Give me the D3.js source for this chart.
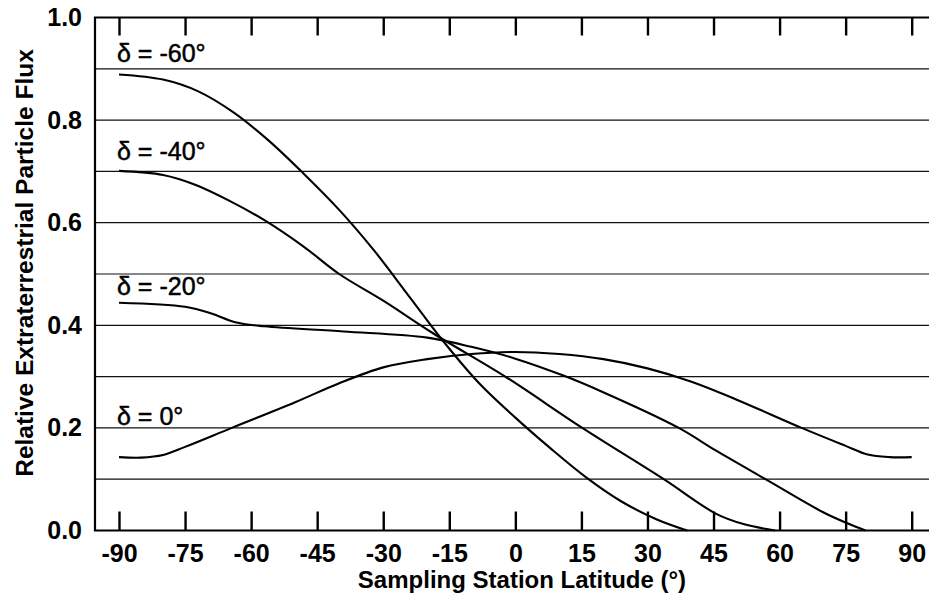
<!DOCTYPE html>
<html>
<head>
<meta charset="utf-8">
<script src="https://cdn.jsdelivr.net/npm/d3@7"></script>
<style>
  body { margin: 0; background: #fff; }
  text { font-family: "Liberation Sans", Arial, Helvetica, sans-serif; fill: #000; }
</style>
</head>
<body>
<script>
// 0.1 data (latitude in degrees, relative flux)
var latTicks = [-90, -75, -60, -45, -30, -15, 0, 15, 30, 45, 60, 75, 90];
var fluxTicks = [0.0, 0.2, 0.4, 0.6, 0.8, 1.0];
var gridVals = [0.1, 0.2, 0.3, 0.4, 0.5, 0.6, 0.7, 0.8, 0.9];

var decl60Lat = [-90, -80, -72, -64, -56, -48, -40, -32, -24, -16, -8, 0, 8, 16, 24, 32, 39];
var decl60Flux = [0.889, 0.879, 0.856, 0.815, 0.76, 0.695, 0.625, 0.545, 0.455, 0.365, 0.285, 0.22, 0.16, 0.104, 0.057, 0.022, 0];

var decl40Lat = [-90, -80, -72.7, -65, -56.8, -48, -40, -30, -18.6, -2.3, 15.2, 33.7, 45.5, 52, 59];
var decl40Flux = [0.701, 0.693, 0.674, 0.643, 0.604, 0.553, 0.5, 0.448, 0.384, 0.3, 0.2, 0.1, 0.033, 0.012, 0];

var decl20Lat = [-90, -75, -69, -63.6, -57, -39, -20, -10, 0, 10.9, 19.3, 37.1, 45.5, 56.8, 70, 75.4, 79.5];
var decl20Flux = [0.444, 0.436, 0.423, 0.406, 0.398, 0.388, 0.376, 0.358, 0.335, 0.302, 0.272, 0.2, 0.156, 0.1, 0.035, 0.014, 0];

var decl0Lat = [-90, -85, -80, -75, -64.4, -50, -40, -30, -20, -10, 0, 10, 20, 30, 40, 50, 65, 75, 80, 85, 90];
var decl0Flux = [0.143, 0.142, 0.147, 0.163, 0.2, 0.25, 0.287, 0.318, 0.334, 0.344, 0.348, 0.344, 0.334, 0.316, 0.29, 0.256, 0.2, 0.165, 0.148, 0.143, 0.143];

var seriesNames = ['δ = -60°', 'δ = -40°', 'δ = -20°', 'δ = 0°'];
var labelFlux = [0.913, 0.722, 0.459, 0.206];

var xTitle = 'Sampling Station Latitude (°)';
var yTitle = 'Relative Extraterrestrial Particle Flux';

// 0.2 sizes
var width = 929, height = 603;
var frameLeft = 95, frameRight = 929;

var x = d3.scaleLinear().domain([-90, 90]).range([119, 911.7]);
var y = d3.scaleLinear().domain([0, 1]).range([530.5, 17.5]);

var svg = d3.select('body').append('svg')
    .attr('width', width)
    .attr('height', height);

// 1. horizontal gridlines
svg.append('g').attr('class', 'grid')
  .selectAll('line').data(gridVals).enter().append('line')
    .attr('x1', frameLeft).attr('x2', frameRight)
    .attr('y1', function(d){ return y(d); })
    .attr('y2', function(d){ return y(d); })
    .attr('stroke', '#111')
    .attr('stroke-width', 1.2);

// 2. frame (top, left, bottom) - no right edge, it runs off the picture
svg.append('path')
    .attr('d', 'M' + frameRight + ',' + y(1) + 'H' + frameLeft + 'V' + y(0) + 'H' + frameRight)
    .attr('fill', 'none')
    .attr('stroke', '#000')
    .attr('stroke-width', 2.2);

// 3. axes: ticks point inward on top and bottom
var bottomAxis = d3.axisBottom(x).tickValues(latTicks).tickSize(-19).tickPadding(14)
    .tickFormat(function(d){ return String(d); }); // plain hyphen, not the unicode minus
var gx = svg.append('g')
    .attr('transform', 'translate(0,' + y(0) + ')')
    .call(bottomAxis);

var topAxis = d3.axisTop(x).tickValues(latTicks).tickSize(-18).tickFormat('');
var gxt = svg.append('g')
    .attr('transform', 'translate(0,' + y(1) + ')')
    .call(topAxis);

var leftAxis = d3.axisLeft(y).tickValues(fluxTicks).tickSize(0).tickPadding(13)
    .tickFormat(d3.format('.1f'));
var gy = svg.append('g')
    .attr('transform', 'translate(' + frameLeft + ',0)')
    .call(leftAxis);

[gx, gxt, gy].forEach(function(g){
    g.select('.domain').remove();
    g.selectAll('.tick line').attr('stroke', '#000').attr('stroke-width', 2.4);
    g.selectAll('.tick text')
        .style('font-size', '25px')
        .style('font-weight', 'bold')
        .attr('fill', '#000');
});

// 4. curves
var allSeries = [
    d3.zip(decl60Lat, decl60Flux),
    d3.zip(decl40Lat, decl40Flux),
    d3.zip(decl20Lat, decl20Flux),
    d3.zip(decl0Lat, decl0Flux)
];

var line = d3.line()
    .x(function(d){ return x(d[0]); })
    .y(function(d){ return y(d[1]); })
    .curve(d3.curveCatmullRom.alpha(0.5));

svg.append('g').attr('class', 'curves')
  .selectAll('path').data(allSeries).enter().append('path')
    .attr('d', line)
    .attr('fill', 'none')
    .attr('stroke', '#000')
    .attr('stroke-width', 2.1);

// 5. declination labels
svg.append('g').attr('class', 'labels')
  .selectAll('text').data(seriesNames).enter().append('text')
    .attr('x', x(-90) - 2)
    .attr('y', function(d, i){ return y(labelFlux[i]); })
    .style('font-size', '25px')
    .attr('stroke', '#000')
    .attr('stroke-width', 0.5)
    .text(function(d){ return d; });

// 6. axis titles
svg.append('text')
    .attr('x', 522).attr('y', 588)
    .attr('text-anchor', 'middle')
    .style('font-size', '24px')
    .style('font-weight', 'bold')
    .text(xTitle);

svg.append('text')
    .attr('transform', 'translate(33,263) rotate(-90)')
    .attr('text-anchor', 'middle')
    .style('font-size', '24.5px')
    .style('font-weight', 'bold')
    .text(yTitle);
</script>
</body>
</html>
